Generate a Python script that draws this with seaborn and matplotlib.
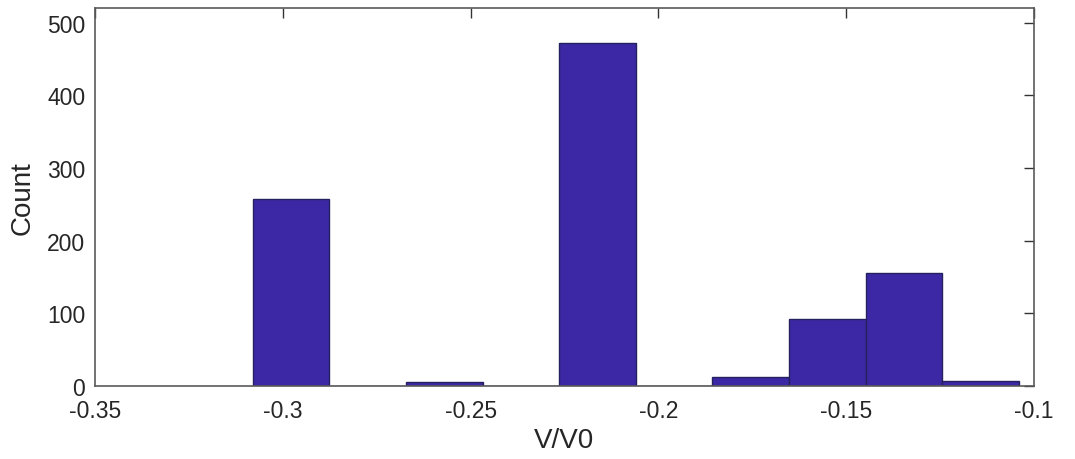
import matplotlib
matplotlib.use("Agg")
import matplotlib.pyplot as plt
import seaborn as sns
import numpy as np
import pandas as pd

# Data
bin_start = -0.308
bin_width = 0.0204
counts = [257, 0, 5, 0, 472, 0, 12, 92, 155, 7]
xticks = [-0.35, -0.3, -0.25, -0.2, -0.15, -0.1]
xtick_labels = ["-0.35", "-0.3", "-0.25", "-0.2", "-0.15", "-0.1"]
yticks = [0, 100, 200, 300, 400, 500]

edges = bin_start + bin_width * np.arange(len(counts) + 1)
centers = (edges[:-1] + edges[1:]) / 2
df = pd.DataFrame({"v": centers, "n": counts})

sns.set_theme(style="white")
plt.rcParams['font.family'] = ['Liberation Sans', 'DejaVu Sans']

fig = plt.figure(figsize=(10.75, 4.6), dpi=100)
ax = fig.add_axes([95/1075, 1 - 387/460, (1034 - 95)/1075, (387 - 9)/460])

sns.histplot(data=df, x="v", weights="n", bins=list(edges), ax=ax,
             color="#3C27A4", edgecolor="#24225E", linewidth=1.0, alpha=1.0)

ax.set_xlim(-0.35, -0.1)
ax.set_ylim(0, 520)
ax.set_xticks(xticks)
ax.set_xticklabels(xtick_labels)
ax.set_yticks(yticks)

txt = "#262626"
for s in ax.spines.values():
    s.set_visible(True)
    s.set_color("#5a5a5a")
    s.set_linewidth(1.2)
ax.tick_params(direction="in", length=7, width=1, color="#333333",
               top=True, right=True, labelsize=16.5, labelcolor=txt)
ax.tick_params(axis="x", pad=9)
ax.tick_params(axis="y", pad=7)
ax.set_xlabel("V/V0", fontsize=20, color=txt, labelpad=4)
ax.set_ylabel("Count", fontsize=20, color=txt, labelpad=8)

fig.savefig("out.png", dpi=100)
